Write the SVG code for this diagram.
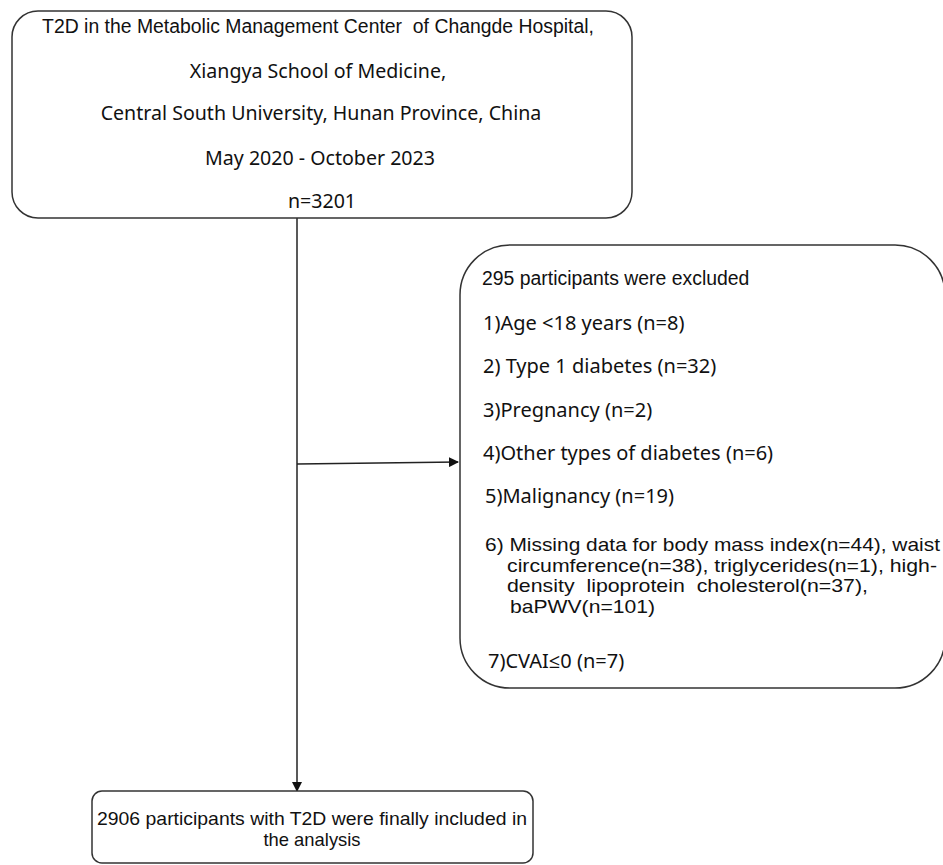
<svg xmlns="http://www.w3.org/2000/svg" width="943" height="865" viewBox="0 0 943 865">
<style>
.box{fill:#fff;stroke:#333;stroke-width:1.5}
.ar{font-family:"Liberation Sans",Arial,sans-serif;fill:#111}
.sg{font-family:"Noto Sans","Open Sans",sans-serif;fill:#111}
.conn{stroke:#222;stroke-width:1.5;fill:none}
</style>
<defs>
<marker id="ah" viewBox="0 0 10 10" refX="9" refY="5" markerWidth="10" markerHeight="10" markerUnits="userSpaceOnUse" orient="auto">
<path d="M0,0 L10,5 L0,10 z" fill="#111"/>
</marker>
</defs>
<rect width="943" height="865" fill="#fff"/>
<g id="connectors">
<line class="conn" x1="297" y1="218" x2="297" y2="791" marker-end="url(#ah)"/>
<line class="conn" x1="297" y1="464" x2="458" y2="462" marker-end="url(#ah)"/>
</g>
<g id="source">
<rect class="box" x="12" y="11" width="620" height="207" rx="26" ry="26"/>
<g text-anchor="middle">
<text class="ar" x="318" y="33" font-size="19.4" xml:space="preserve">T2D in the Metabolic Management Center  of Changde Hospital,</text>
<text class="sg" x="318" y="78" font-size="19.6">Xiangya School of Medicine,</text>
<text class="sg" x="321" y="120" font-size="19.6">Central South University, Hunan Province, China</text>
<text class="sg" x="320" y="165" font-size="19.6">May 2020 - October 2023</text>
<text class="sg" x="322" y="208" font-size="19.6">n=3201</text>
</g>
</g>
<g id="excluded">
<rect class="box" x="460" y="245" width="485" height="443" rx="50" ry="50"/>
<text class="ar" x="482" y="285" font-size="19.4">295 participants were excluded</text>
<text class="sg" x="483" y="330" font-size="20">1)Age &lt;18 years (n=8)</text>
<text class="sg" x="483" y="373" font-size="20">2) Type 1 diabetes (n=32)</text>
<text class="sg" x="483" y="417" font-size="20">3)Pregnancy (n=2)</text>
<text class="sg" x="483" y="460" font-size="20">4)Other types of diabetes (n=6)</text>
<text class="sg" x="485" y="503" font-size="20">5)Malignancy (n=19)</text>
<text class="ar" x="485" y="551" font-size="18.4" textLength="455" lengthAdjust="spacingAndGlyphs">6) Missing data for body mass index(n=44), waist</text>
<text class="ar" x="507" y="571.7" font-size="18.4" textLength="430" lengthAdjust="spacingAndGlyphs">circumference(n=38), triglycerides(n=1), high-</text>
<text class="ar" x="507" y="592.4" font-size="18.4" textLength="361" lengthAdjust="spacingAndGlyphs" xml:space="preserve">density  lipoprotein  cholesterol(n=37),</text>
<text class="ar" x="510" y="613.1" font-size="18.4" textLength="145" lengthAdjust="spacingAndGlyphs">baPWV(n=101)</text>
<text class="sg" x="488" y="668" font-size="20">7)CVAI≤0 (n=7)</text>
</g>
<g id="included">
<rect class="box" x="92" y="791" width="441" height="72" rx="10" ry="10"/>
<text class="ar" x="312" y="825" font-size="18.4" text-anchor="middle" textLength="430" lengthAdjust="spacingAndGlyphs">2906 participants with T2D were finally included in</text>
<text class="ar" x="312" y="846" font-size="18.4" text-anchor="middle">the analysis</text>
</g>
</svg>
